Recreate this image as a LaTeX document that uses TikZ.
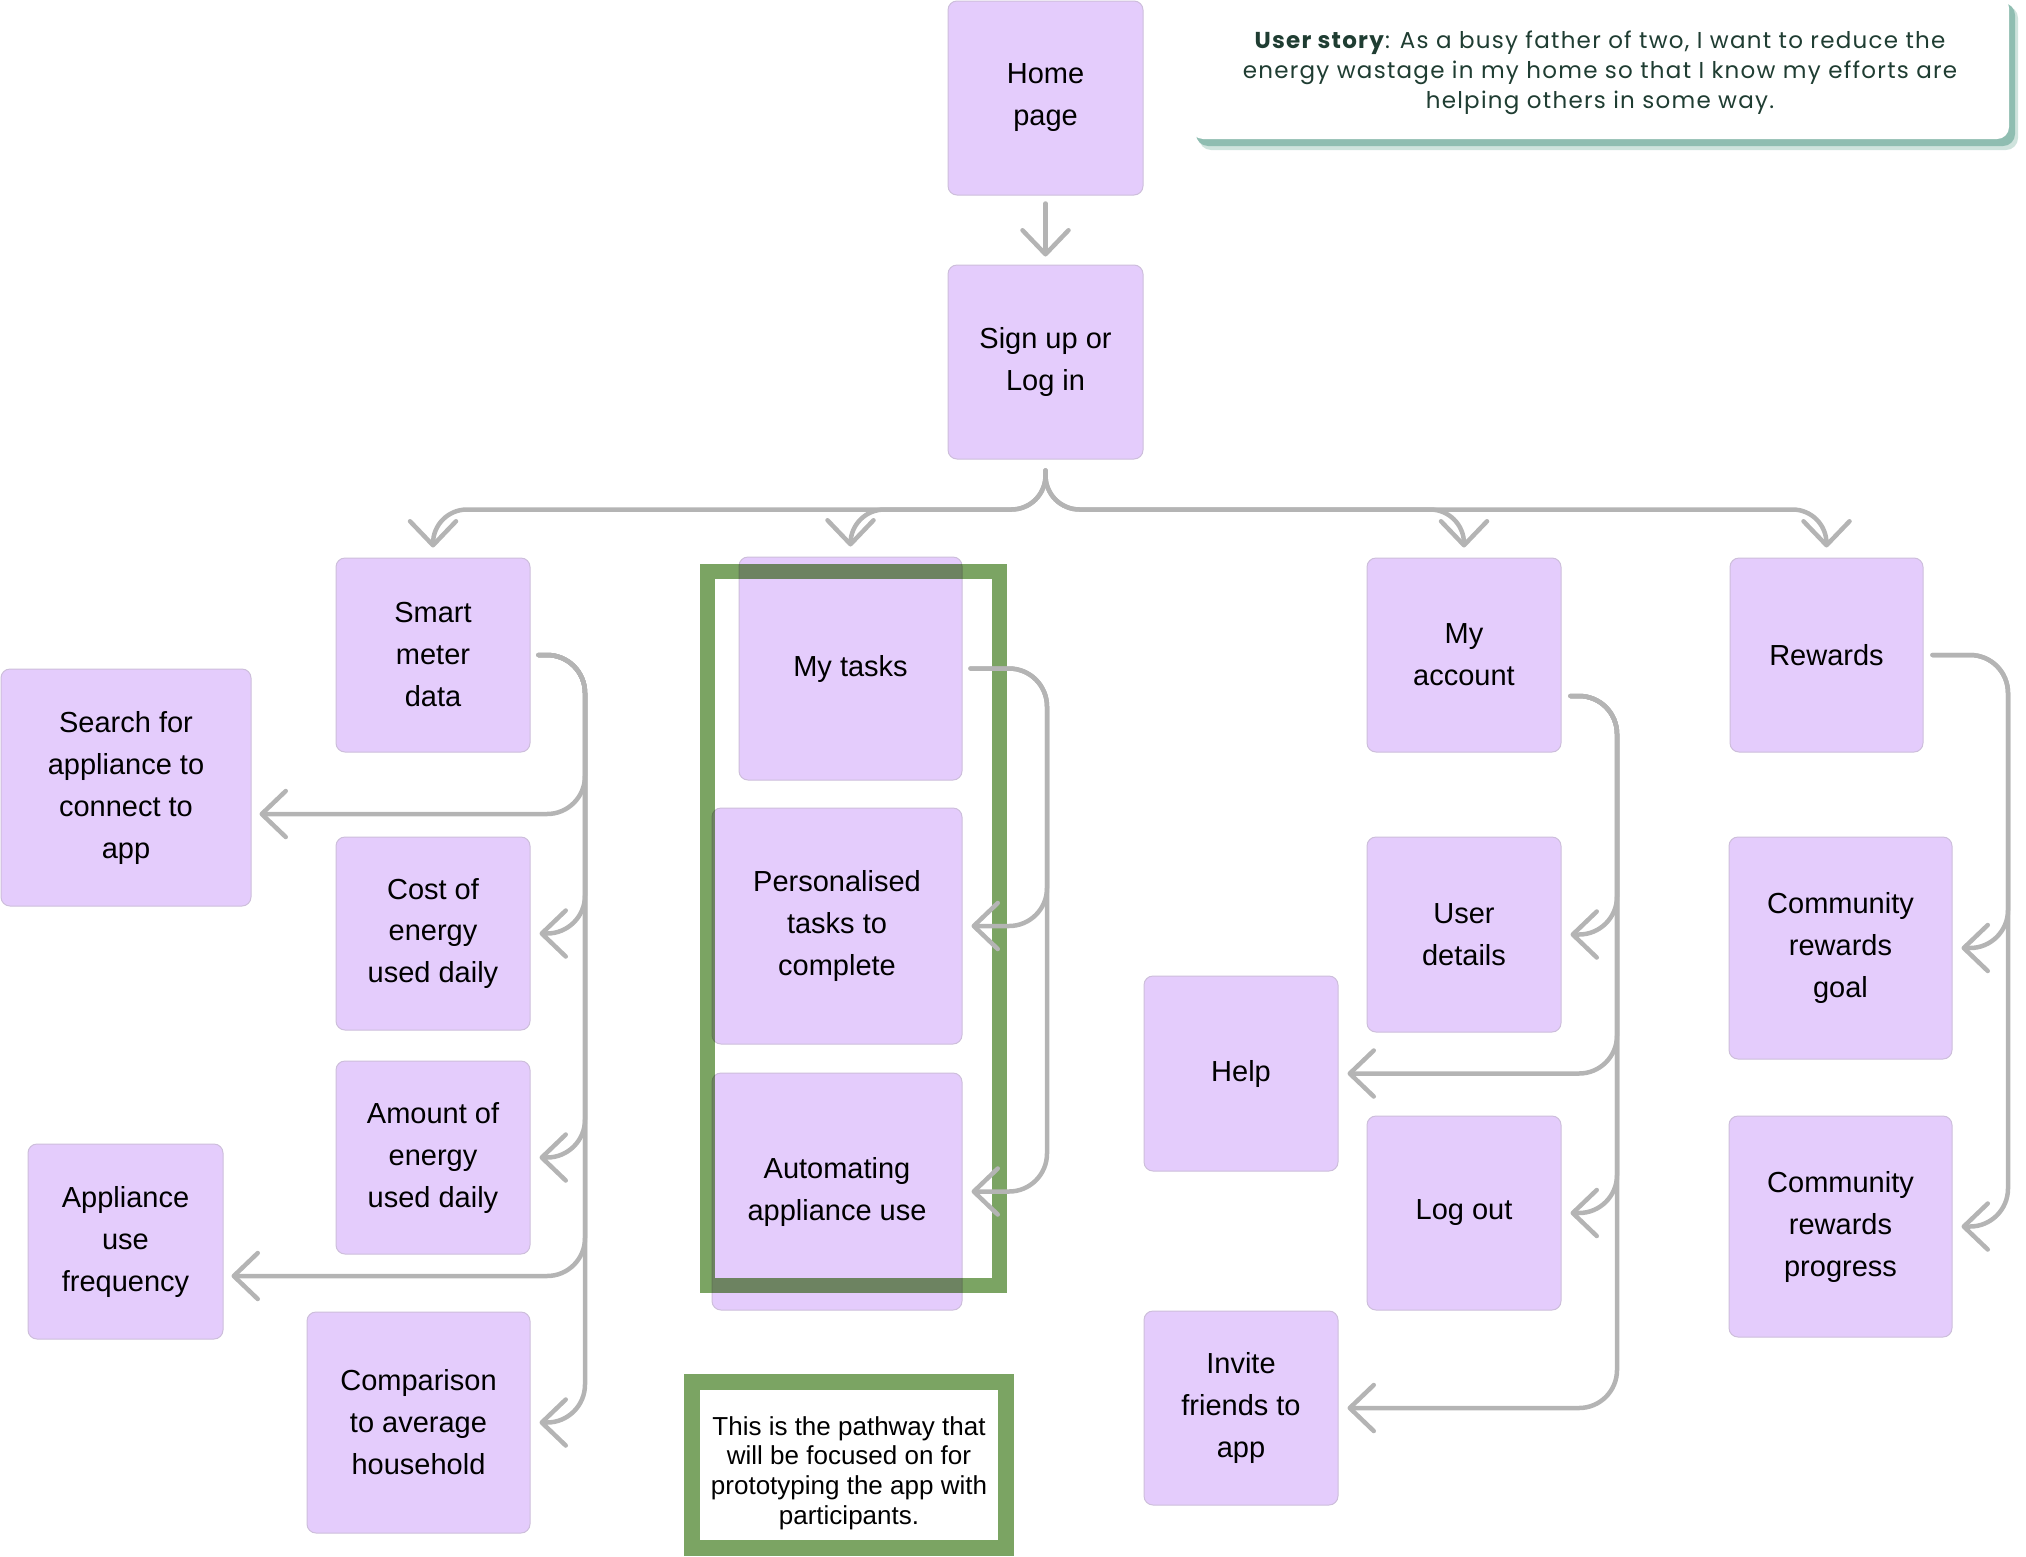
\documentclass[tikz,border=0pt]{standalone}
\usepackage{fontspec}
\setmainfont{Liberation Sans}
\newfontfamily\storyfont[LetterSpace=5.5]{Poppins}
\usetikzlibrary{arrows.meta,calc}
\definecolor{boxfill}{HTML}{E4CCFC}
\definecolor{boxline}{HTML}{CDBEDB}
\definecolor{conngray}{HTML}{B4B4B4}
\definecolor{focusgreen}{HTML}{7BA463}
\definecolor{storygreen}{HTML}{1F3D32}
\definecolor{shadowA}{HTML}{8FBDB1}
\definecolor{shadowB}{HTML}{CFE3DD}
\begin{document}
\begin{tikzpicture}[x=1pt,y=-1pt,
  pbox/.style={draw=boxline, line width=1pt, fill=boxfill, rounded corners=9pt, align=center,
    inner sep=0pt, font=\fontsize{29}{42}\selectfont, text=black},
  wh/.style 2 args={minimum width=#1pt, minimum height=#2pt},
  conn/.style={draw=conngray, line width=4.5pt, line cap=round, line join=round, rounded corners=38pt,
    -{Straight Barb[round,length=24pt,width=46pt]}},
  greenframe/.style={draw=focusgreen, inner sep=0pt},
]
\useasboundingbox (0,0) rectangle (2026,1556);

% user story
\fill[shadowB, rounded corners=12pt] (1199,6) rectangle (2018,150);
\fill[shadowA, rounded corners=12pt] (1196,3) rectangle (2015,146);
\node[fill=white, rounded corners=12pt, wh={818}{143}, inner sep=0pt] (story) at (1600,67.5) {};
\node[font=\storyfont\fontsize{23}{30}\selectfont, text=storygreen, align=center] (storytext) at (1600,73)
  {\textbf{User story}: As a busy father of two, I want to reduce the\\energy wastage in my home so that I know my efforts are\\helping others in some way.};

% boxes
\node[pbox, wh={195}{194}] (home) at (1045.5,98) {Home\\page};
\node[pbox, wh={195}{194}] (signup) at (1045.5,362) {Sign up or\\Log in};
\node[pbox, wh={194}{194}] (smart) at (433,655) {Smart\\meter\\data};
\node[pbox, wh={223}{223}] (mytasks) at (850.5,668.5) {My tasks};
\node[pbox, wh={250}{236}] (pers) at (837,926) {Personalised\\tasks to\\complete};
\node[pbox, wh={250}{237}] (auto) at (837,1191.5) {Automating\\appliance use};
\node[pbox, wh={194}{194}] (myacc) at (1464,655) {My\\account};
\node[pbox, wh={193}{194}] (rewards) at (1826.5,655) {Rewards};
\node[pbox, wh={250}{237}] (search) at (126,787.5) {Search for\\appliance to\\connect to\\app};
\node[pbox, wh={194}{193}] (cost) at (433,933.5) {Cost of\\energy\\used daily};
\node[pbox, wh={194}{193}] (amount) at (433,1157.5) {Amount of\\energy\\used daily};
\node[pbox, wh={195}{195}] (appl) at (125.5,1241.5) {Appliance\\use\\frequency};
\node[pbox, wh={223}{221}] (comp) at (418.5,1422.5) {Comparison\\to average\\household};
\node[pbox, wh={194}{195}] (userdet) at (1464,934.5) {User\\details};
\node[pbox, wh={194}{195}] (help) at (1241,1073.5) {Help};
\node[pbox, wh={194}{194}] (logout) at (1464,1213) {Log out};
\node[pbox, wh={194}{194}] (invite) at (1241,1408) {Invite\\friends to\\app};
\node[pbox, wh={223}{222}] (goal) at (1840.5,948) {Community\\rewards\\goal};
\node[pbox, wh={223}{221}] (progress) at (1840.5,1226.5) {Community\\rewards\\progress};

% focus frame
\begin{scope}[blend mode=multiply]
\node[greenframe, line width=15pt, wh={292}{714}] (focus) at (853.5,928.5) {};
\end{scope}

% note
\node[greenframe, line width=16pt, fill=white, wh={314}{166}] (notebox) at (849,1465) {};
\node[font=\fontsize{26}{29.7}\selectfont, align=center, inner sep=0pt] (notetext) at (849,1473)
  {This is the pathway that\\will be focused on for\\prototyping the app with\\participants.};

% connectors
\draw[conn] ([yshift=-8pt]home.south) -- ([yshift=8pt]signup.north);
\coordinate (jn) at ([yshift=-11pt]signup.south);
\foreach \t in {smart,mytasks,myacc,rewards}{
  \draw[conn, rounded corners=34pt] (jn) -- ++(0,39) -| ([yshift=10pt]\t.north);
}

% tip coordinates
\coordinate (tSearch) at ($(search.east)+(8,26.5)$);
\coordinate (tAppl) at ($(appl.east)+(8,34.5)$);
\foreach \b in {cost,amount,comp,pers,auto,userdet,help,logout,invite,goal,progress}{
  \coordinate (t\b) at ([xshift=9pt]\b.east);
}

% smart meter branch
\coordinate (s0) at ([xshift=8pt]smart.east);
\coordinate (trL) at (585,0);
\foreach \p in {tSearch,tcost,tamount,tAppl,tcomp}{
  \draw[conn] (s0) -| (\p -| trL) -- (\p);
}

% my tasks branch
\coordinate (s1) at ([xshift=8pt]mytasks.east);
\coordinate (trT) at (1047,0);
\foreach \p in {tpers,tauto}{
  \draw[conn] (s1) -| (\p -| trT) -- (\p);
}

% my account branch
\coordinate (s2) at ($(myacc.east)+(9,41)$);
\coordinate (trA) at (1617,0);
\foreach \p in {tuserdet,thelp,tlogout,tinvite}{
  \draw[conn] (s2) -| (\p -| trA) -- (\p);
}

% rewards branch
\coordinate (s3) at ([xshift=9pt]rewards.east);
\coordinate (trR) at (2008,0);
\foreach \p in {tgoal,tprogress}{
  \draw[conn] (s3) -| (\p -| trR) -- (\p);
}
\end{tikzpicture}
\end{document}
